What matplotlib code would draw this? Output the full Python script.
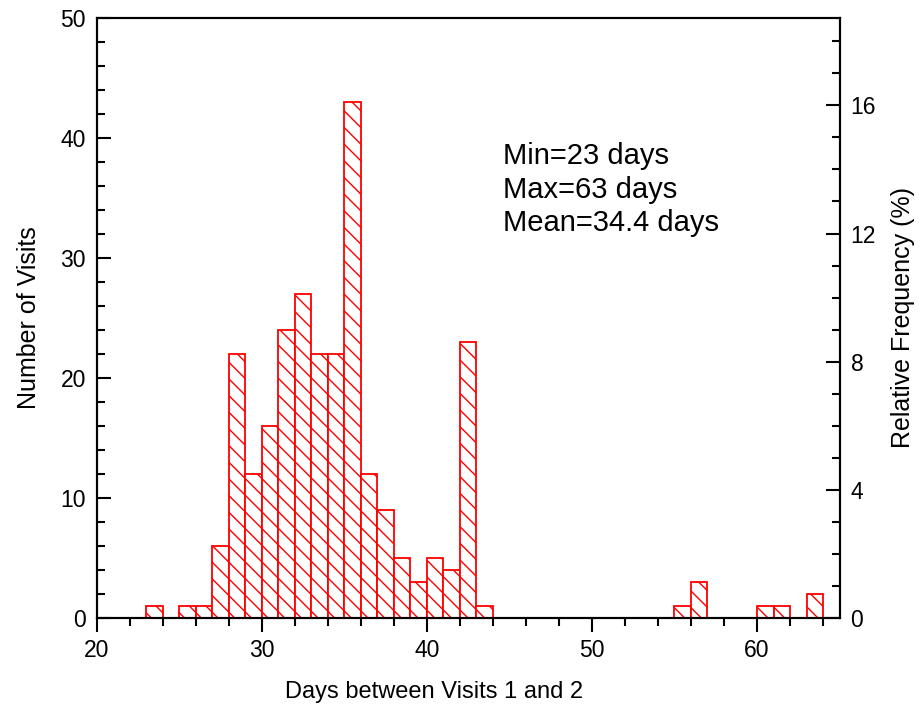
import matplotlib
matplotlib.use("Agg")
import matplotlib.pyplot as plt
from matplotlib.ticker import MultipleLocator

plt.rcParams['font.family'] = ['Liberation Sans', 'DejaVu Sans']
plt.rcParams['hatch.linewidth'] = 1.0

days = [23, 24, 25, 26, 27, 28, 29, 30, 31, 32, 33, 34, 35, 36, 37, 38, 39, 40, 41, 42, 43,
        55, 56, 60, 61, 63]
visits = [1, 0, 1, 1, 6, 22, 12, 16, 24, 27, 22, 22, 43, 12, 9, 5, 3, 5, 4, 23, 1,
          1, 3, 1, 1, 2]
stats_text = ["Min=23 days", "Max=63 days", "Mean=34.4 days"]

total = sum(visits)

fig = plt.figure(figsize=(9.19, 7.07), dpi=100)
ax = fig.add_axes([0.1055, 0.126, 0.808, 0.8485])

for d, v in zip(days, visits):
    if v > 0:
        ax.bar(d, v, width=1, align='edge', facecolor='white', edgecolor='red',
               hatch='\\\\', linewidth=1.3)

ax.set_xlim(20, 65)
ax.set_ylim(0, 50)
ax.xaxis.set_major_locator(MultipleLocator(10))
ax.xaxis.set_minor_locator(MultipleLocator(2))
ax.yaxis.set_major_locator(MultipleLocator(10))
ax.yaxis.set_minor_locator(MultipleLocator(2))
ax.tick_params(axis='x', which='both', direction='out', top=False, labelsize=16.5,
               width=1.5, pad=5)
ax.tick_params(axis='x', which='major', length=10)
ax.tick_params(axis='x', which='minor', length=6)
ax.tick_params(axis='y', which='both', direction='in', right=False, labelsize=16.5,
               width=1.5, pad=8)
ax.tick_params(axis='y', which='major', length=10)
ax.tick_params(axis='y', which='minor', length=6)
for s in ax.spines.values():
    s.set_linewidth(1.5)

ax.set_xlabel("Days between Visits 1 and 2", fontsize=17, labelpad=12)
ax.xaxis.set_label_coords(0.454, -0.105)
ax.set_ylabel("Number of Visits", fontsize=18, labelpad=14)

ax2 = ax.twinx()
ax2.set_ylim(0, 50 / total * 100)
ax2.yaxis.set_major_locator(MultipleLocator(4))
ax2.yaxis.set_minor_locator(MultipleLocator(1))
ax2.tick_params(axis='y', which='both', direction='in', labelsize=16.5, width=1.5, pad=8)
ax2.tick_params(axis='y', which='major', length=10)
ax2.tick_params(axis='y', which='minor', length=6)
for s in ax2.spines.values():
    s.set_linewidth(1.5)
ax2.set_ylabel("Relative Frequency (%)", fontsize=18, labelpad=11)

ax.text(0.547, 0.714, "\n".join(stats_text), transform=ax.transAxes, fontsize=21,
        linespacing=1.24, va='center', ha='left')

fig.savefig("out.png", dpi=100)
